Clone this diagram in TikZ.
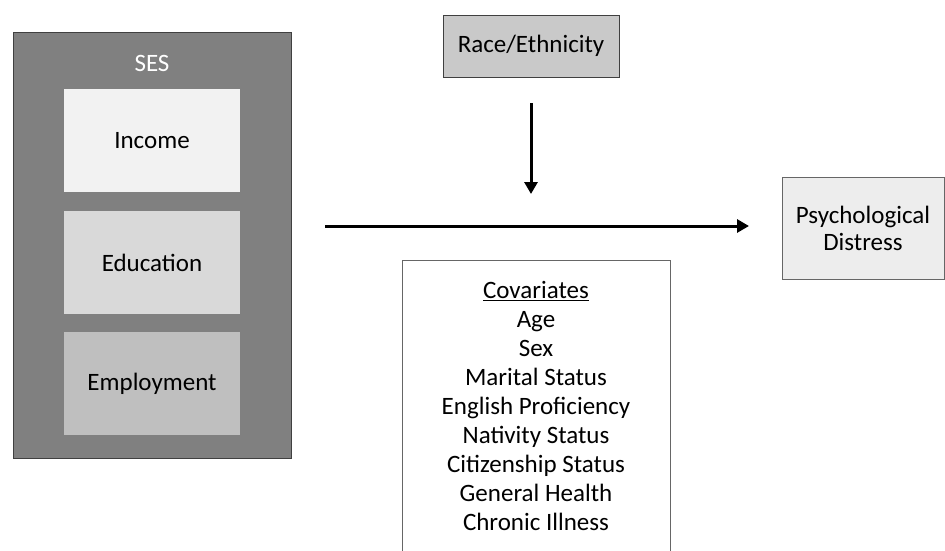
\documentclass[tikz,border=0pt]{standalone}
\usepackage{fontspec}
\setmainfont{Carlito}
\usetikzlibrary{arrows.meta}
\definecolor{sesgray}{HTML}{808080}
\definecolor{incfill}{HTML}{F2F2F2}
\definecolor{edufill}{HTML}{D9D9D9}
\definecolor{empfill}{HTML}{BFBFBF}
\definecolor{racefill}{HTML}{C9C9C9}
\definecolor{psyfill}{HTML}{EDEDED}
\definecolor{edge}{HTML}{404040}
\tikzset{
  inner/.style={rectangle, minimum width=176pt, minimum height=103pt, inner sep=0pt, font=\fontsize{25}{27}\selectfont},
  boxed/.style={rectangle, draw=edge, line width=0.8pt, inner sep=0pt, align=center, font=\fontsize{25}{27}\selectfont},
  arr/.style={line width=3pt, -{Triangle[length=12pt,width=13pt]}}
}
\begin{document}
\begin{tikzpicture}[x=1pt,y=-1pt]
\useasboundingbox (0,0) rectangle (945,551);
% SES block
\node[rectangle, draw=edge, fill=sesgray, line width=0.8pt, minimum width=278pt, minimum height=426pt, inner sep=0pt] (ses) at (152,245) {};
\node[text=white, font=\fontsize{25}{27}\selectfont] (seslabel) at (152,63) {SES};
\node[inner, fill=incfill] (income) at (152,140.5) {Income};
\node[inner, fill=edufill] (education) at (152,262.5) {Education};
\node[inner, fill=empfill] (employment) at (152,383.5) {Employment};
% Race
\node[boxed, fill=racefill, minimum width=176pt, minimum height=62pt] (race) at (531,46) {Race/Ethnicity};
% Psychological distress
\node[boxed, draw=edge!80, fill=psyfill, minimum width=162pt, minimum height=102pt] (psy) at (863,228) {Psychological\\Distress};
% Covariates
\node[rectangle, draw=edge!80, line width=0.8pt, fill=white, minimum width=268pt, minimum height=320pt, inner sep=0pt, anchor=north] (covbox) at (536,260) {};
\node[align=center, anchor=north, inner sep=0pt, font=\fontsize{25}{29}\selectfont] (covtext) at (536,281) {\underline{Covariates}\\Age\\Sex\\Marital Status\\English Proficiency\\Nativity Status\\Citizenship Status\\General Health\\Chronic Illness};
% Arrows
\coordinate (hstart) at (325,226);
\coordinate (hend) at (749,226);
\coordinate (vstart) at (531,103);
\coordinate (vend) at (531,194);
\draw[arr] (hstart) -- (hend);
\draw[arr] (vstart) -- (vend);
\end{tikzpicture}
\end{document}
